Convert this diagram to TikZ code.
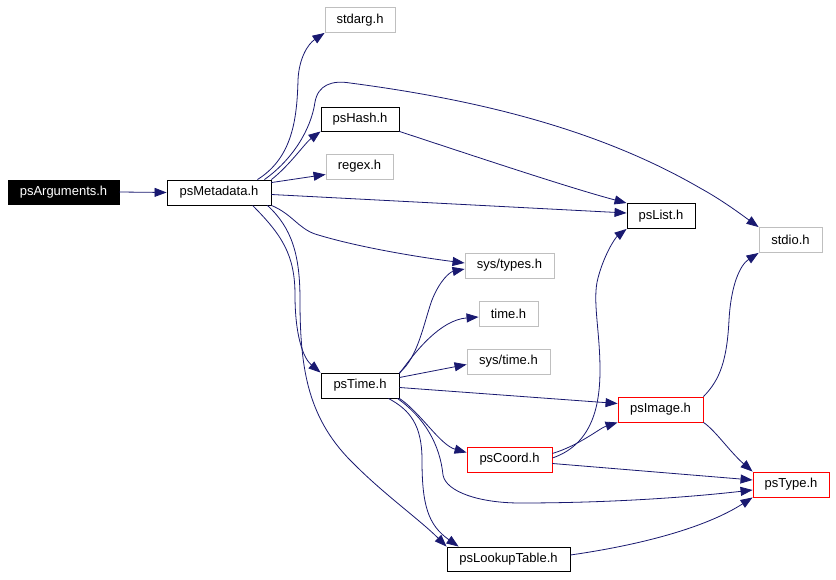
\documentclass[tikz,border=0pt]{standalone}
\usepackage{fontspec}
\setmainfont{Liberation Sans}
\usetikzlibrary{arrows.meta,calc}
\definecolor{edgec}{HTML}{191970}
\definecolor{grayb}{HTML}{BFBFBF}
\definecolor{redb}{HTML}{FF0000}
\begin{document}
\begin{tikzpicture}[x=1pt,y=-1pt,
  box/.style={draw=black, line width=0.9pt, rectangle, inner sep=0pt, minimum height=25pt,
    font=\fontsize{13}{15}\selectfont, text=black},
  ext/.style={box, draw=grayb},
  redbox/.style={box, draw=redb},
  e/.style={draw=edgec, line width=0.8pt, -{Triangle[length=12pt,width=9pt]}}]
\fill[white] (0,0) rectangle (836,580);
\useasboundingbox (0,0) rectangle (836,580);

\node[box, fill=black, text=white, minimum width=111pt, minimum height=24pt] (args) at (63.5,192) {psArguments.h};
\node[box, minimum width=104pt] (meta) at (219,192.5) {psMetadata.h};
\node[ext, minimum width=70pt] (stdarg) at (360,20) {stdarg.h};
\node[box, minimum width=78pt, minimum height=24pt] (hash) at (360,119) {psHash.h};
\node[ext, minimum width=67pt] (regex) at (359.5,166.5) {regex.h};
\node[box, minimum width=68pt] (list) at (661,216) {psList.h};
\node[ext, minimum width=63pt] (stdio) at (790.5,240) {stdio.h};
\node[ext, minimum width=89pt] (systypes) at (509.5,265.5) {sys/types.h};
\node[ext, minimum width=59pt] (time) at (508.5,313.5) {time.h};
\node[ext, minimum width=83pt] (systime) at (508.5,361.5) {sys/time.h};
\node[box, minimum width=78pt] (pstime) at (360,385.5) {psTime.h};
\node[redbox, minimum width=85pt] (image) at (660.5,409.5) {psImage.h};
\node[redbox, minimum width=85pt] (coord) at (509.5,459.5) {psCoord.h};
\node[redbox, minimum width=76pt] (type) at (791,484.5) {psType.h};
\node[box, minimum width=123pt, minimum height=24pt] (lut) at (508.5,559) {psLookupTable.h};

% psArguments
\draw[e] (args.east) -- (meta.west);

% psMetadata
\draw[e] ($(meta.north east)+(-14,0)$) .. controls (292,158) and (297,120) .. (298,80)
  .. controls (299,58) and (308,44) .. (stdarg.south west);
\draw[e] ($(meta.north east)+(-7,0)$) .. controls (292,160) and (311,130) .. (315,102)
  .. controls (318,85) and (332,80) .. (350,83)
  .. controls (480,100) and (600,130) .. (700,188)
  .. controls (722,200) and (742,215) .. (stdio.north west);
\draw[e] (meta.north east) .. controls (290,165) and (305,143) .. (hash.south west);
\draw[e] ($(meta.north east)+(0,3)$) -- ($(regex.west)+(0,8)$);
\draw[e] ($(meta.east)+(0,2)$) -- ($(list.west)+(0,-3)$);
\draw[e] (meta.south east) .. controls (292,214) and (298,228) .. (315,234)
  .. controls (360,248) and (425,258) .. ($(systypes.west)+(0,-2.5)$);
\draw[e] ($(meta.south west)+(86,0)$) .. controls (282,235) and (295,255) .. (295,295)
  .. controls (295,335) and (303,358) .. (pstime.north west);
\draw[e] ($(meta.south east)+(-4,0)$) .. controls (292,228) and (300,255) .. (300,300)
  .. controls (300,370) and (308,420) .. (355,465)
  .. controls (385,495) and (420,520) .. (lut.north west);

% psHash
\draw[e] (hash.south east) .. controls (480,158) and (570,188) .. (list.north west);

% psTime
\draw[e] (pstime.north east) .. controls (418,358) and (424,322) .. (432,300)
  .. controls (440,280) and (450,272) .. ($(systypes.west)+(0,3.5)$);
\draw[e] ($(pstime.north east)+(0,1)$) .. controls (415,352) and (440,320) .. ($(time.west)+(0,3.5)$);
\draw[e] ($(pstime.east)+(0,-8)$) -- ($(systime.west)+(0,3)$);
\draw[e] ($(pstime.east)+(0,2)$) -- ($(image.west)+(0,-6)$);
\draw[e] (pstime.south east) .. controls (420,412) and (440,445) .. ($(coord.west)+(0,-7)$);
\draw[e] ($(pstime.south east)+(-2,0)$) .. controls (425,418) and (440,445) .. (443,475)
  .. controls (446,492) and (480,503) .. (520,503)
  .. controls (620,503) and (700,496) .. ($(type.west)+(0,5.5)$);
\draw[e] ($(pstime.south east)+(-11,0)$) .. controls (410,410) and (422,425) .. (422,460)
  .. controls (422,505) and (428,525) .. ($(lut.north west)+(12,0)$);

% psCoord
\draw[e] ($(coord.east)+(0,-1.5)$) .. controls (590,445) and (600,410) .. (600,370)
  .. controls (600,330) and (592,300) .. (598,278)
  .. controls (604,255) and (615,238) .. (list.south west);
\draw[e] ($(coord.east)+(0,-6)$) .. controls (580,445) and (600,428) .. (image.south west);
\draw[e] ($(coord.east)+(0,4)$) -- ($(type.west)+(0,-4.5)$);

% psImage
\draw[e] (image.north east) .. controls (720,380) and (727,360) .. (729,320)
  .. controls (731,285) and (740,265) .. (stdio.south west);
\draw[e] (image.south east) .. controls (715,430) and (730,452) .. (type.north west);

% psLookupTable
\draw[e] ($(lut.east)+(0,-4)$) .. controls (640,545) and (705,528) .. (type.south west);
\end{tikzpicture}
\end{document}
